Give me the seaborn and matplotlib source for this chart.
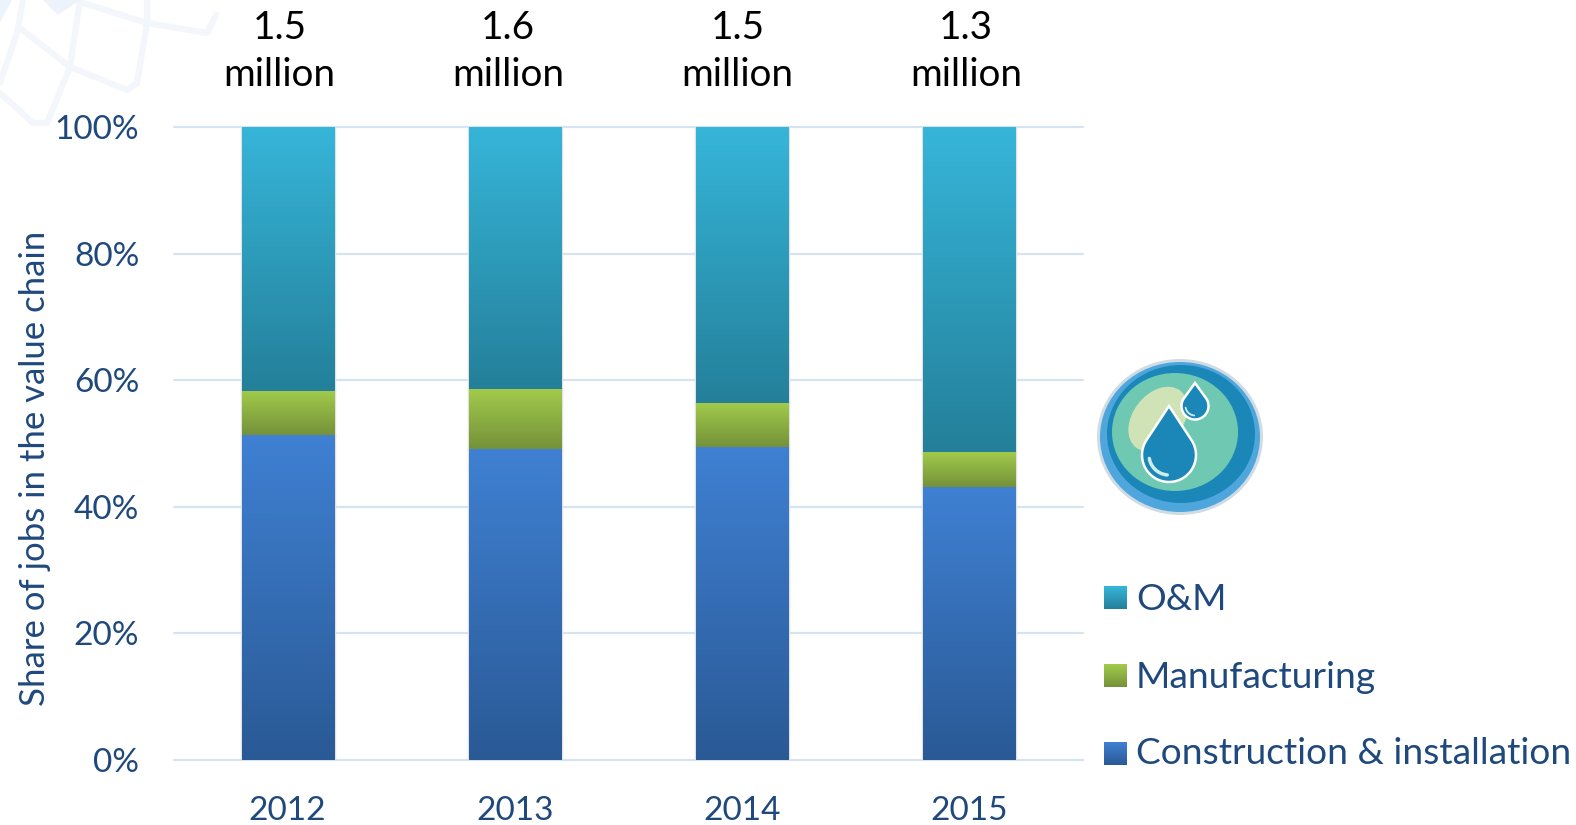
import numpy as np
import pandas as pd
import matplotlib
matplotlib.use("Agg")
import matplotlib.pyplot as plt
import seaborn as sns
from matplotlib.patches import Ellipse, Polygon
from matplotlib.colors import LinearSegmentedColormap

# data
years = ["2012", "2013", "2014", "2015"]
construction = [51.3, 49.1, 49.4, 43.1]
manufacturing = [7.0, 9.5, 7.0, 5.6]
om = [41.7, 41.4, 43.6, 51.3]
totals = ["1.5\nmillion", "1.6\nmillion", "1.5\nmillion", "1.3\nmillion"]
series_names = ["Construction & installation", "Manufacturing", "O&M"]

# (bottom colour, top colour)
grads = [("#2A5A96", "#3F80D2"), ("#75923A", "#A2CB4B"), ("#24809A", "#36B5D9")]
text_col = "#1F497D"
grid_col = "#D6E4F2"

sns.set_theme(style="white")
plt.rcParams["font.family"] = ["Lato", "DejaVu Sans"]

W, H = 1576, 825
fig = plt.figure(figsize=(W / 100, H / 100), dpi=100)

# overlay in pixel coordinates for watermark, icon and legend
bg = fig.add_axes([0, 0, 1, 1], zorder=0)
bg.set_xlim(0, W)
bg.set_ylim(H, 0)
bg.axis("off")

ax = fig.add_axes([174 / W, 1 - 760 / H, 909 / W, 633 / H], zorder=1)
ax.patch.set_alpha(0)

# stacked bars
bottom = np.zeros(len(years))
for vals in [construction, manufacturing, om]:
    sns.barplot(x=years, y=vals, bottom=bottom, width=0.405, color="#cccccc", ax=ax, zorder=2)
    bottom = bottom + np.array(vals)

# swap flat fill for a vertical gradient, one per segment
for i, p in enumerate(ax.patches):
    c0, c1 = grads[i // len(years)]
    cmap = LinearSegmentedColormap.from_list("g", [c0, c1])
    x0, y0, w, h = p.get_x(), p.get_y(), p.get_width(), p.get_height()
    ax.imshow(np.linspace(1, 0, 64).reshape(-1, 1), cmap=cmap, aspect="auto", vmin=0, vmax=1,
              extent=[x0, x0 + w, y0, y0 + h], zorder=3, interpolation="bilinear")
    p.set_facecolor("none")
    p.set_edgecolor("#E2E2E2")
    p.set_linewidth(2.5)

ax.set_xlim(-0.5, 3.5)
ax.set_ylim(0, 100)
ax.set_yticks(range(0, 101, 20))
ax.set_yticklabels([f"{v}%" for v in range(0, 101, 20)])
ax.grid(axis="y", color=grid_col, lw=1.6, zorder=0)
ax.set_axisbelow(True)
sns.despine(ax=ax, left=True, bottom=True, top=True, right=True)
for gl in ax.get_ygridlines():
    gl.set_clip_on(False)
ax.tick_params(axis="y", length=0, pad=25, labelsize=24, labelcolor=text_col)
ax.tick_params(axis="x", length=0, pad=26, labelsize=24, labelcolor=text_col)
ax.set_xlabel("")
ax.set_ylabel("")

# the totals sit a little left of the bars, more so at the left
for i, (t, off) in enumerate(zip(totals, [-0.035, -0.03, -0.02, -0.015])):
    ax.text(i + off, 112.0, t, ha="center", va="center", fontsize=27.8, color="black", linespacing=1.38)

bg.text(35, 468, "Share of jobs in the value chain", rotation=90, ha="center", va="center",
        fontsize=25, color=text_col)

# faint watermark in the top left corner
wm = "#F3F7FB"
for pts in [[(20, 28), (70, 67), (127, 90)],
            [(83, 3), (147, 23), (207, 33), (216, 15)],
            [(80, 0), (70, 67), (47, 123)],
            [(147, 0), (147, 23), (137, 83), (127, 90)],
            [(23, 0), (17, 33), (0, 83)],
            [(0, 93), (33, 123), (47, 123)]]:
    xs, ys = zip(*pts)
    bg.plot(xs, ys, color=wm, lw=4.5, solid_capstyle="round", zorder=1)
bg.add_patch(Polygon([(43, 0), (58, 15), (80, 0)], fc="#ECF3FA", ec="none"))
bg.add_patch(Polygon([(0, 0), (12, 0), (0, 22)], fc="#ECF3FA", ec="none"))

# water icon
for cx, cy, rx, ry, col in [(1180, 437, 83, 78, "#CFDCE4"), (1180, 437, 80, 75, "#4FA6DC"),
                            (1181, 434, 74, 69, "#1B87B8"), (1175, 432, 63, 59, "#6FC9B2")]:
    bg.add_patch(Ellipse((cx, cy), 2 * rx, 2 * ry, fc=col, ec="none", zorder=2))
blob = Ellipse((1158, 419), 50, 72, angle=38, fc="#CFE3B6", ec="none", zorder=3)
bg.add_patch(blob)


def drop(tipx, tipy, cy, r):
    # teardrop outline: tip plus most of a circle
    a = np.arccos(r / (cy - tipy))
    th = np.linspace(-np.pi / 2 + a, 1.5 * np.pi - a, 60)
    pts = [(tipx, tipy)] + [(tipx + r * np.cos(t), cy + r * np.sin(t)) for t in th]
    bg.add_patch(Polygon(pts, closed=True, fc="#1B87B8", ec="white", lw=1.8, zorder=4, joinstyle="miter"))


drop(1169, 406, 455, 27)
drop(1195, 383, 406, 13.5)
th = np.linspace(np.radians(95), np.radians(170), 20)
bg.plot(1169 + 20 * np.cos(th), 455 + 20 * np.sin(th), color="#CFEDE6", lw=2.5, zorder=5)
bg.plot(1195 + 9.5 * np.cos(th), 406 + 9.5 * np.sin(th), color="#CFEDE6", lw=1.3, zorder=5)

# legend, top to bottom
for name, (c0, c1), ytop, ytxt in zip(series_names[::-1], grads[::-1], [586, 664, 742], [599, 677, 754]):
    cmap = LinearSegmentedColormap.from_list("g", [c0, c1])
    bg.imshow(np.linspace(1, 0, 32).reshape(-1, 1), cmap=cmap, aspect="auto", vmin=0, vmax=1,
              extent=[1104, 1127, ytop + 23, ytop], zorder=2)
    bg.text(1136, ytxt, name, ha="left", va="center", fontsize=26.7, color=text_col)
bg.set_xlim(0, W)
bg.set_ylim(H, 0)

fig.savefig("out.png", dpi=100)
